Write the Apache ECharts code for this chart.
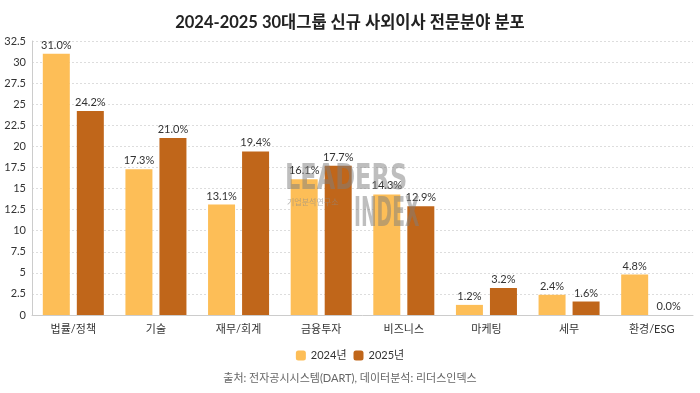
<!DOCTYPE html>
<html>
<head>
<meta charset="utf-8">
<script src="https://cdn.jsdelivr.net/npm/echarts@6/dist/echarts.min.js"></script>
<style>html,body{margin:0;padding:0;background:#fff}#c{width:700px;height:393px}</style>
</head>
<body>
<div id="c"></div>
<script>
const categories = ['법률/정책', '기술', '재무/회계', '금융투자', '비즈니스', '마케팅', '세무', '환경/ESG'];
const values2024 = [31.0, 17.3, 13.1, 16.1, 14.3, 1.2, 2.4, 4.8];
const values2025 = [24.2, 21.0, 19.4, 17.7, 12.9, 3.2, 1.6, 0.0];
const seriesNames = ['2024년', '2025년'];
const yTicks = { min: 0, max: 32.5, interval: 2.5 };

const FONT = "Lato, 'Noto Sans CJK KR', sans-serif";
const chart = echarts.init(document.getElementById('c'), null, { renderer: 'canvas' });
const labelOpt = {
  show: true, position: 'top', distance: 3,
  color: '#333', fontSize: 11, fontFamily: FONT,
  formatter: p => p.value.toFixed(1) + '%'
};
const wmFill = 'rgba(125,125,125,0.5)';
chart.setOption({
  animation: false,
  textStyle: { fontFamily: FONT },
  title: {
    text: '2024-2025 30대그룹 신규 사외이사 전문분야 분포',
    left: 'center', top: 9,
    textStyle: { fontSize: 16.5, fontWeight: 'bold', color: '#222', fontFamily: FONT }
  },
  grid: { left: 32, right: 7, top: 41, bottom: 78, containLabel: false, outerBoundsMode: 'none' },
  legend: {
    data: seriesNames, bottom: 27, left: 'center',
    itemWidth: 10, itemHeight: 10, itemGap: 7,
    textStyle: { fontSize: 11, color: '#333', fontFamily: FONT }
  },
  xAxis: {
    type: 'category', data: categories,
    axisLine: { lineStyle: { color: '#ccc' } },
    axisTick: { show: false },
    axisLabel: { color: '#333', fontSize: 11, margin: 9, fontFamily: FONT }
  },
  yAxis: {
    type: 'value', min: yTicks.min, max: yTicks.max, interval: yTicks.interval,
    axisLine: { show: true, lineStyle: { color: '#ccc' } },
    axisLabel: { color: '#333', fontSize: 11, margin: 6, fontFamily: FONT },
    splitLine: { lineStyle: { color: '#ddd', type: [2, 2] } }
  },
  graphic: [
    { type: 'text', x: 285, y: 162, scaleX: 0.74, silent: true, z: 100,
      style: { text: 'LEADERS', fontSize: 36, fontWeight: 'bold', fill: wmFill, fontFamily: 'DejaVu Sans Condensed, sans-serif' } },
    { type: 'text', x: 287, y: 198, silent: true, z: 100,
      style: { text: '기업분석연구소', fontSize: 8, fill: 'rgba(140,140,140,0.6)', fontFamily: "'Noto Sans CJK KR'" } },
    { type: 'text', x: 354, y: 196, scaleX: 0.52, silent: true, z: 100,
      style: { text: 'INDEX', fontSize: 40, fontWeight: 'bold', fill: wmFill, fontFamily: 'DejaVu Sans Condensed, sans-serif' } },
    { type: 'text', left: 'center', top: 373, silent: true,
      style: { text: '출처: 전자공시시스템(DART), 데이터분석: 리더스인덱스', fontSize: 11, fill: '#666', fontFamily: FONT } }
  ],
  series: [
    { name: seriesNames[0], type: 'bar', data: values2024, barWidth: 27, barGap: '26%',
      itemStyle: { color: '#FDBE57' }, label: labelOpt },
    { name: seriesNames[1], type: 'bar', data: values2025, barWidth: 27,
      itemStyle: { color: '#C0661A' }, label: labelOpt }
  ]
});
</script>
</body>
</html>
